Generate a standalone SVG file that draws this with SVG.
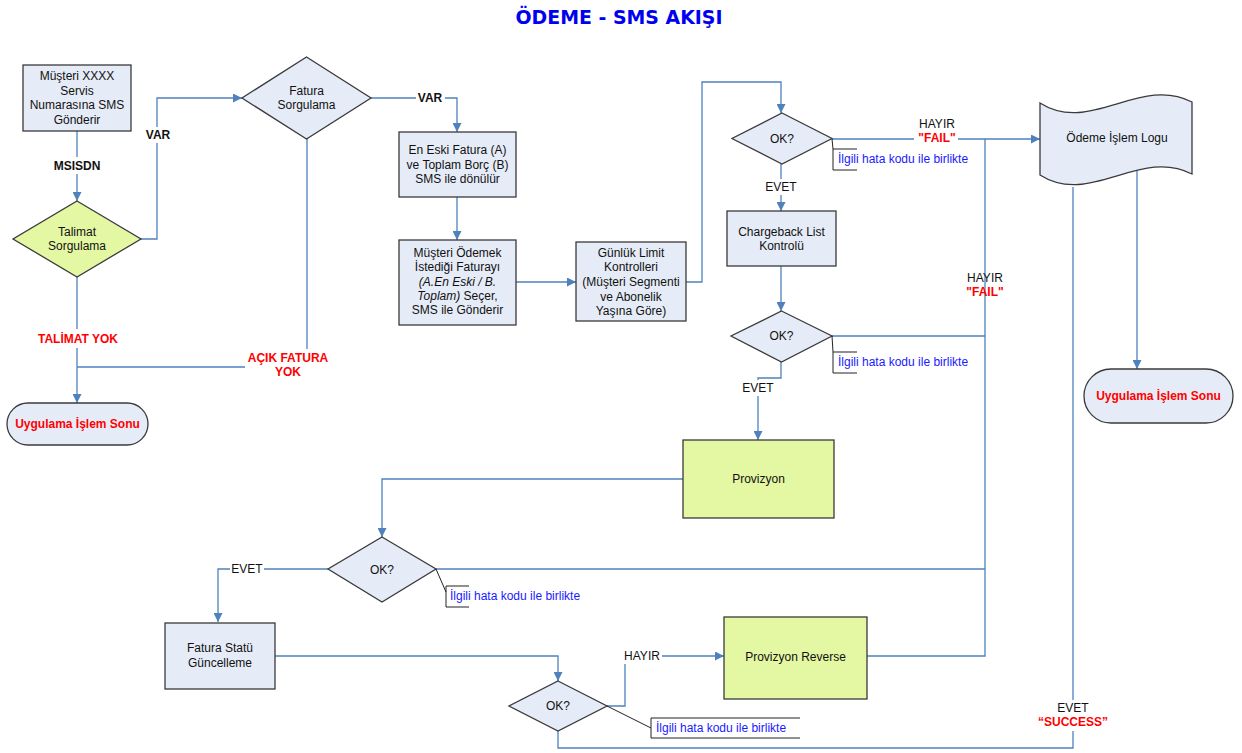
<svg xmlns="http://www.w3.org/2000/svg" width="1242" height="753" viewBox="0 0 1242 753">
<style>
.bg{fill:#ffffff}
.node{fill:#e6ecf7;stroke:#3a3a3a;stroke-width:1.3}
.green{fill:#e4f7a3;stroke:#3a3a3a;stroke-width:1.3}
.ln{fill:none;stroke:#4f81bd;stroke-width:1.3}
.br{fill:none;stroke:#222;stroke-width:1}
text{font-family:"Liberation Sans",Arial,sans-serif;font-size:12px;fill:#111;text-anchor:middle}
.b{font-weight:bold}
.red{fill:#ff0000;font-weight:bold}
.ann{fill:#1a1aff;text-anchor:start}
.it{font-style:italic}
.title{font-family:"DejaVu Sans",Verdana,sans-serif;font-size:20px;font-weight:bold;fill:#0000f0}
</style>
<defs>
<marker id="arr" viewBox="0 0 10 10" refX="10" refY="5" markerWidth="9" markerHeight="9" markerUnits="userSpaceOnUse" orient="auto">
<path d="M0,0 L10,5 L0,10 z" fill="#4f81bd"/>
</marker>
</defs>
<rect width="1242" height="753" fill="#ffffff"/>
<text class="title" x="619" y="24" textLength="207" lengthAdjust="spacingAndGlyphs">ÖDEME - SMS AKIŞI</text>

<g id="connectors">
<path class="ln" d="M77,131 V201" marker-end="url(#arr)"/>
<path class="ln" d="M141,239 H157 V98 H242" marker-end="url(#arr)"/>
<path class="ln" d="M77,277 V403" marker-end="url(#arr)"/>
<path class="ln" d="M307,139 V367 H77"/>
<path class="ln" d="M371,98 H457 V132" marker-end="url(#arr)"/>
<path class="ln" d="M457,197 V240" marker-end="url(#arr)"/>
<path class="ln" d="M516,282 H576" marker-end="url(#arr)"/>
<path class="ln" d="M686,282 H702 V82 H781 V113" marker-end="url(#arr)"/>
<path class="ln" d="M832,139 H1040" marker-end="url(#arr)"/>
<path class="ln" d="M781,164 V211" marker-end="url(#arr)"/>
<path class="ln" d="M781,266 V311" marker-end="url(#arr)"/>
<path class="ln" d="M832,336 H985"/>
<path class="ln" d="M781,362 V378 H758 V440" marker-end="url(#arr)"/>
<path class="ln" d="M683,479 H382 V537" marker-end="url(#arr)"/>
<path class="ln" d="M436,569 H985"/>
<path class="ln" d="M328,569 H218 V622" marker-end="url(#arr)"/>
<path class="ln" d="M275,656 H558 V681" marker-end="url(#arr)"/>
<path class="ln" d="M607,706 H625 V656 H724" marker-end="url(#arr)"/>
<path class="ln" d="M867,656 H985 V139"/>
<path class="ln" d="M558,731 V748 H1073 V187"/>
<path class="ln" d="M1137,163 V369" marker-end="url(#arr)"/>

<rect class="bg" x="52" y="157" width="50" height="17"/>
<text class="b" x="77" y="170">MSISDN</text>
<rect class="bg" x="144" y="127" width="28" height="16"/>
<text class="b" x="158" y="139">VAR</text>
<rect class="bg" x="416" y="91" width="29" height="15"/>
<text class="b" x="430" y="102">VAR</text>
<rect class="bg" x="35" y="329" width="86" height="19"/>
<text class="red" x="78" y="343">TALİMAT YOK</text>
<rect class="bg" x="245" y="349" width="86" height="31"/>
<text class="red" x="288" y="362">AÇIK FATURA</text>
<text class="red" x="288" y="376">YOK</text>
<rect class="bg" x="764" y="179" width="34" height="16"/>
<text x="781" y="191">EVET</text>
<text x="937" y="128">HAYIR</text>
<rect class="bg" x="914" y="131" width="44" height="15"/>
<text class="red" x="937" y="142">"FAIL"</text>
<text x="985" y="282">HAYIR</text>
<text class="red" x="985" y="296">"FAIL"</text>
<rect class="bg" x="741" y="380" width="34" height="16"/>
<text x="758" y="392">EVET</text>
<rect class="bg" x="230" y="561" width="34" height="16"/>
<text x="247" y="573">EVET</text>
<rect class="bg" x="622" y="648" width="40" height="16"/>
<text x="642" y="660">HAYIR</text>
<rect class="bg" x="1033" y="700" width="80" height="31"/>
<text x="1073" y="712">EVET</text>
<text class="red" x="1073" y="726">“SUCCESS”</text>
</g>

<g id="n_musteri">
<rect class="node" x="23" y="65" width="108" height="66"/>
<text x="77" y="80">Müşteri XXXX</text>
<text x="77" y="94.5">Servis</text>
<text x="77" y="109">Numarasına SMS</text>
<text x="77" y="123.5">Gönderir</text>
</g>

<g id="n_talimat">
<path class="green" d="M77,201 L141,239 L77,277 L13,239 Z"/>
<text x="77" y="236">Talimat</text>
<text x="77" y="250">Sorgulama</text>
</g>

<g id="n_fatura_sorg">
<path class="node" d="M306.5,57 L371,98 L306.5,139 L242,98 Z"/>
<text x="306.5" y="95">Fatura</text>
<text x="306.5" y="109">Sorgulama</text>
</g>

<g id="n_uygulama1">
<rect class="node" x="7" y="403" width="141" height="42" rx="21"/>
<text class="red" x="77.5" y="428">Uygulama İşlem Sonu</text>
</g>

<g id="n_eneski">
<rect class="node" x="399" y="132" width="117" height="65"/>
<text x="457.5" y="154">En Eski Fatura (A)</text>
<text x="457.5" y="169">ve Toplam Borç (B)</text>
<text x="457.5" y="183">SMS ile dönülür</text>
</g>

<g id="n_secim">
<rect class="node" x="399" y="240" width="117" height="85"/>
<text x="457.5" y="257">Müşteri Ödemek</text>
<text x="457.5" y="271">İstediği Faturayı</text>
<text x="457.5" y="286" class="it">(A.En Eski / B.</text>
<text x="457.5" y="300"><tspan class="it">Toplam)</tspan> Seçer,</text>
<text x="457.5" y="314">SMS ile Gönderir</text>
</g>

<g id="n_gunluk">
<rect class="node" x="576" y="242" width="110" height="79"/>
<text x="631" y="257">Günlük Limit</text>
<text x="631" y="271">Kontrolleri</text>
<text x="631" y="286">(Müşteri Segmenti</text>
<text x="631" y="301">ve Abonelik</text>
<text x="631" y="315">Yaşına Göre)</text>
</g>

<g id="n_ok1">
<path class="node" d="M782,113 L832,138.5 L782,164 L732,138.5 Z"/>
<text x="782" y="143">OK?</text>
<path class="br" d="M832,139 L833,149 M857,149 H833 V170 H857"/>
<text class="ann" x="838" y="163">İlgili hata kodu ile birlikte</text>
</g>

<g id="n_chargeback">
<rect class="node" x="727" y="211" width="109" height="55"/>
<text x="781.5" y="236">Chargeback List</text>
<text x="781.5" y="250">Kontrolü</text>
</g>

<g id="n_ok2">
<path class="node" d="M781.5,311 L832,336 L781.5,362 L731,336 Z"/>
<text x="781.5" y="340">OK?</text>
<path class="br" d="M832,336 L833,352 M857,352 H833 V373 H857"/>
<text class="ann" x="838" y="366">İlgili hata kodu ile birlikte</text>
</g>

<g id="n_odeme_log">
<path class="node" d="M1040,103 C1090,135 1140,75 1192,102 L1192,174 C1140,147 1090,207 1040,175 Z"/>
<text x="1117" y="142">Ödeme İşlem Logu</text>
</g>

<g id="n_uygulama2">
<rect class="node" x="1084" y="369" width="149" height="54" rx="27"/>
<text class="red" x="1158.5" y="400">Uygulama İşlem Sonu</text>
</g>

<g id="n_provizyon">
<rect class="green" x="683" y="440" width="151" height="78"/>
<text x="758.5" y="483">Provizyon</text>
</g>

<g id="n_ok3">
<path class="node" d="M382,537 L436,569 L382,602 L328,569 Z"/>
<text x="382" y="574">OK?</text>
<path class="br" d="M436,569 L446,592 M469,586 H446 V607 H469"/>
<text class="ann" x="450" y="600">İlgili hata kodu ile birlikte</text>
</g>

<g id="n_fatura_statu">
<rect class="node" x="165" y="623" width="110" height="66"/>
<text x="220" y="652">Fatura Statü</text>
<text x="220" y="667">Güncelleme</text>
</g>

<g id="n_ok4">
<path class="node" d="M558,681 L607,706 L558,731 L509,706 Z"/>
<text x="558" y="710">OK?</text>
<path class="br" d="M607,706 L651,728 M800,718 H651 V738 H800"/>
<text class="ann" x="656" y="732">İlgili hata kodu ile birlikte</text>
</g>

<g id="n_prov_reverse">
<rect class="green" x="724" y="617" width="143" height="82"/>
<text x="795.5" y="661">Provizyon Reverse</text>
</g>
</svg>
